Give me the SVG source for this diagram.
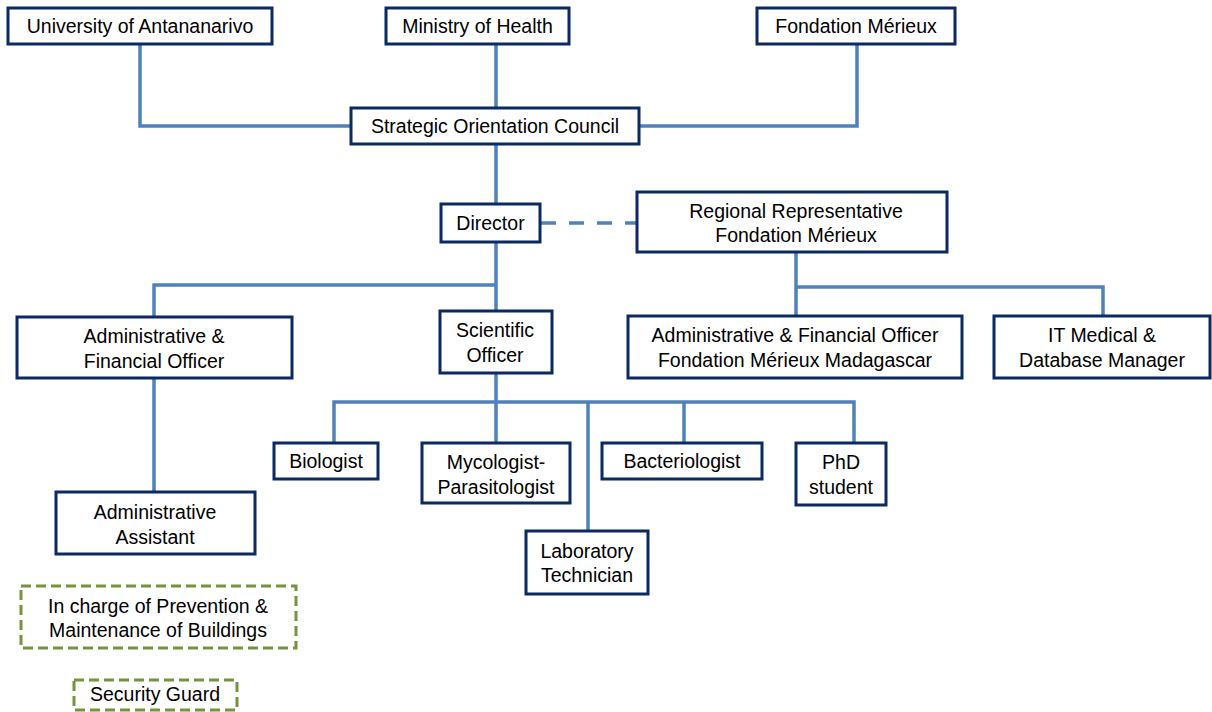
<svg xmlns="http://www.w3.org/2000/svg" width="1212" height="712" viewBox="0 0 1212 712">
<style>
.box{fill:#fff;stroke:#0b2a63;stroke-width:3}
.gbox{fill:#fff;stroke:#77933c;stroke-width:3;stroke-dasharray:10,5}
.ln{fill:none;stroke:#4f81bd;stroke-width:3.5}
.dl{fill:none;stroke:#4f81bd;stroke-width:3.5;stroke-dasharray:15,13}
text{font-family:"Liberation Sans",Arial,sans-serif;font-size:19.5px;fill:#000;text-anchor:middle}
</style>
<rect width="1212" height="712" fill="#fff"/>
<g id="connectors">
<polyline class="ln" points="140,44 140,126 351,126"/>
<line class="ln" x1="496" y1="44" x2="496" y2="108"/>
<polyline class="ln" points="857,44 857,126 639,126"/>
<line class="ln" x1="496" y1="144" x2="496" y2="204"/>
<line class="dl" x1="541" y1="223" x2="637" y2="223"/>
<line class="ln" x1="496" y1="242" x2="496" y2="311"/>
<polyline class="ln" points="154,317 154,285 496,285"/>
<line class="ln" x1="796" y1="252" x2="796" y2="316"/>
<polyline class="ln" points="796,287 1103,287 1103,316"/>
<line class="ln" x1="496" y1="373" x2="496" y2="443"/>
<polyline class="ln" points="334,443 334,402 854,402 854,443"/>
<line class="ln" x1="588" y1="402" x2="588" y2="531"/>
<line class="ln" x1="684" y1="402" x2="684" y2="443"/>
<line class="ln" x1="154" y1="378" x2="154" y2="492"/>
</g>
<g id="university"><rect class="box" x="8" y="8" width="264" height="36"/><text x="140" y="33">University of Antananarivo</text></g>
<g id="ministry"><rect class="box" x="386" y="8" width="183" height="36"/><text x="477.5" y="33">Ministry of Health</text></g>
<g id="fondation"><rect class="box" x="757" y="8" width="198" height="36"/><text x="856" y="33">Fondation Mérieux</text></g>
<g id="council"><rect class="box" x="351" y="108" width="288" height="36"/><text x="495" y="133">Strategic Orientation Council</text></g>
<g id="director"><rect class="box" x="441" y="204" width="99" height="38"/><text x="490.5" y="230">Director</text></g>
<g id="regional"><rect class="box" x="637" y="192" width="310" height="60"/><text x="796" y="218">Regional Representative</text><text x="796" y="242">Fondation Mérieux</text></g>
<g id="admin-fin"><rect class="box" x="17" y="317" width="275" height="61"/><text x="154" y="343">Administrative &amp;</text><text x="154" y="368">Financial Officer</text></g>
<g id="scientific"><rect class="box" x="440" y="311" width="112" height="62"/><text x="495" y="337">Scientific</text><text x="495" y="362">Officer</text></g>
<g id="admin-fm"><rect class="box" x="628" y="316" width="334" height="62"/><text x="795" y="342">Administrative &amp; Financial Officer</text><text x="795" y="367">Fondation Mérieux Madagascar</text></g>
<g id="it"><rect class="box" x="994" y="316" width="216" height="62"/><text x="1102" y="342">IT Medical &amp;</text><text x="1102" y="367">Database Manager</text></g>
<g id="biologist"><rect class="box" x="274" y="443" width="104" height="36"/><text x="326" y="468">Biologist</text></g>
<g id="mycologist"><rect class="box" x="422" y="443" width="148" height="60"/><text x="496" y="469">Mycologist-</text><text x="496" y="494">Parasitologist</text></g>
<g id="lab"><rect class="box" x="526" y="531" width="122" height="63"/><text x="587" y="558">Laboratory</text><text x="587" y="582">Technician</text></g>
<g id="bacteriologist"><rect class="box" x="602" y="443" width="160" height="36"/><text x="682" y="468">Bacteriologist</text></g>
<g id="phd"><rect class="box" x="796" y="443" width="90" height="62"/><text x="841" y="469">PhD</text><text x="841" y="494">student</text></g>
<g id="admin-assistant"><rect class="box" x="56" y="492" width="199" height="62"/><text x="155" y="519">Administrative</text><text x="155" y="544">Assistant</text></g>
<g id="prevention"><rect class="gbox" x="21" y="586" width="275" height="62"/><text x="158" y="613">In charge of Prevention &amp;</text><text x="158" y="637">Maintenance of Buildings</text></g>
<g id="security"><rect class="gbox" x="74" y="680" width="163" height="30"/><text x="155" y="701">Security Guard</text></g>
</svg>
